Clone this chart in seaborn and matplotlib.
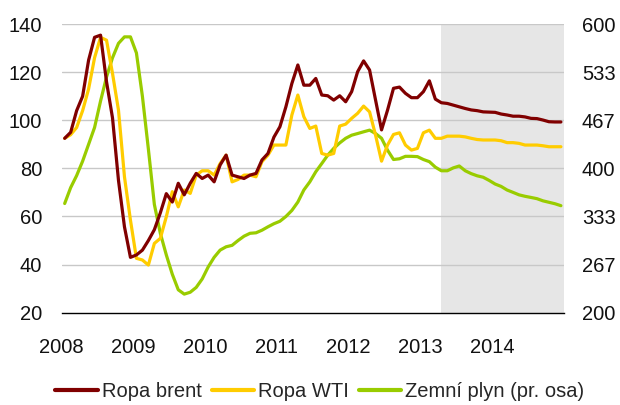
import numpy as np
import pandas as pd
import matplotlib
matplotlib.use("Agg")
import matplotlib.pyplot as plt
from matplotlib.lines import Line2D
import seaborn as sns

# Monthly data Jan 2008 - Dec 2014
brent = [92.5, 95, 104, 110, 125, 134.5, 135.4, 116, 101, 75, 55.7, 43,
         44, 46, 50, 54.5, 61.5, 69.5, 66, 73.8, 69, 73.8, 77.9, 75.8,
         77.2, 74.4, 81.4, 85.5, 77.2, 76.5, 75.8, 77.2, 77.9, 83.5, 86.2, 93,
         97.3, 105.6, 115.3, 123, 114.6, 114.6, 117.4, 110.5, 110.2, 108.4, 110.2, 107.7,
         111.9, 120.2, 124.7, 120.9, 108.4, 96, 104.2, 113.3, 113.8, 111.2, 109.4, 109.4,
         111.9, 116.4, 108.8, 107.3, 107, 106.3, 105.6, 104.9, 104.3, 104, 103.5, 103.4,
         103.3, 102.6, 102.2, 101.7, 101.7, 101.4, 100.8, 100.7, 100.1, 99.4, 99.3, 99.3]
wti = [92.5, 94, 97, 104, 113, 126, 134.5, 133.3, 119.5, 104.2, 76.5, 58.5,
       42.6, 41.9, 39.8, 48.8, 50.9, 59.9, 70.3, 64, 71, 69.6, 77.2, 79,
       79, 77.2, 82, 85.5, 74.4, 75.4, 77.2, 77.2, 76.5, 82.8, 85.5, 89.7,
       89.7, 89.7, 102.2, 110.5, 101.5, 96.6, 97.6, 86.2, 85.5, 86.2, 97.6, 98.4,
       100.8, 102.9, 105.9, 103.5, 93.8, 83, 89.7, 94.1, 94.8, 89.7, 87.6, 88.3,
       94.8, 95.9, 92.5, 92.5, 93.4, 93.4, 93.4, 93.1, 92.5, 92, 91.8, 91.8,
       91.8, 91.5, 90.7, 90.7, 90.4, 89.7, 89.7, 89.7, 89.4, 89, 89, 89]
gas = [351.3, 373.3, 390, 410, 433.3, 456.7, 493.3, 526.7, 553.3, 573.3, 582.3, 582.3,
       560, 500, 426.7, 350, 310, 280, 253.3, 231.7, 225.7, 228.3, 235, 246.7,
       263.3, 276.7, 286.7, 291.3, 293.3, 300, 306, 310, 310.7, 314.3, 319, 323.3,
       326.7, 333.3, 341.7, 353.3, 370, 381.3, 395.3, 406.7, 418.3, 427.7, 435.3, 441.7,
       446, 448.3, 450.7, 453, 448.3, 441.7, 425.3, 412.3, 413.3, 416.7, 416.7, 416.3,
       412.3, 409.3, 401.7, 396.7, 396.7, 400.7, 403.3, 396.7, 392.7, 389.7, 387.7, 383.3,
       378.3, 375, 370, 366.7, 363.3, 361.3, 359.7, 358, 355, 353, 351, 348.3]

year_labels = ["2008", "2009", "2010", "2011", "2012", "2013", "2014"]
left_ticks = [20, 40, 60, 80, 100, 120, 140]
right_ticks = [200, 267, 333, 400, 467, 533, 600]
forecast_start = 2013.29
labels = ["Ropa brent", "Ropa WTI", "Zemní plyn (pr. osa)"]
colors = ["#800000", "#FFCC00", "#99CC00"]

months = pd.date_range("2008-01-01", periods=len(brent), freq="MS")
xpos = months.year + (months.month - 0.5) / 12
df = pd.DataFrame({"x": xpos, "brent": brent, "wti": wti, "gas": gas})

sns.set_theme(style="white")
plt.rcParams["font.family"] = ["Liberation Sans", "DejaVu Sans"]

fig = plt.figure(figsize=(6.2, 4.05), dpi=100)
ax = fig.add_axes([0.0995, 0.228, 0.81, 0.7125])
ax2 = ax.twinx()

# background layer (ax2): shading, grid, gas line
ax2.axvspan(forecast_start, 2015, color="#E6E6E6", zorder=0, lw=0)
for t in np.linspace(200, 600, 7)[1:]:
    ax2.axhline(t, color="#C8C8C8", lw=1.0, zorder=0.5)

lw = 2.3
sns.lineplot(data=df, x="x", y="gas", ax=ax2, color=colors[2], lw=lw, zorder=2)
sns.lineplot(data=df, x="x", y="wti", ax=ax, color=colors[1], lw=lw, zorder=2)
sns.lineplot(data=df, x="x", y="brent", ax=ax, color=colors[0], lw=lw, zorder=3)

ax.set_xlim(2008, 2015)
ax.set_ylim(20, 140)
ax2.set_ylim(200, 600)
ax.set_yticks(left_ticks)
ax2.set_yticks(np.linspace(200, 600, 7))
ax2.set_yticklabels([str(t) for t in right_ticks])
ax.set_xticks(range(2008, 2016))
ax.set_xticklabels(year_labels + [""])
ax.set_xlabel("")
ax.set_ylabel("")
ax2.set_ylabel("")

fs = 14.5
for a in (ax, ax2):
    for s in ("top", "left", "right", "bottom"):
        a.spines[s].set_visible(False)
    a.grid(False)
ax.spines["bottom"].set_visible(True)
ax.spines["bottom"].set_color("black")
ax.spines["bottom"].set_linewidth(1.0)
ax.tick_params(axis="x", direction="out", length=6, width=1, color="black",
               labelsize=fs, pad=12, labelcolor="#111111")
ax.tick_params(axis="y", length=0, labelsize=fs, pad=14, labelcolor="#111111")
ax2.tick_params(axis="y", length=0, labelsize=fs, pad=13, labelcolor="#111111")
ax.set_zorder(ax2.get_zorder() + 1)
ax.patch.set_visible(False)

handles = [Line2D([], [], color=c, lw=3) for c in colors]
fig.legend(handles, labels, loc="center", bbox_to_anchor=(0.516, 0.033), ncol=3,
           frameon=False, fontsize=fs, handlelength=2.1, handletextpad=0.2,
           columnspacing=0.5, borderpad=0, borderaxespad=0)

fig.savefig("out.png", dpi=100)
